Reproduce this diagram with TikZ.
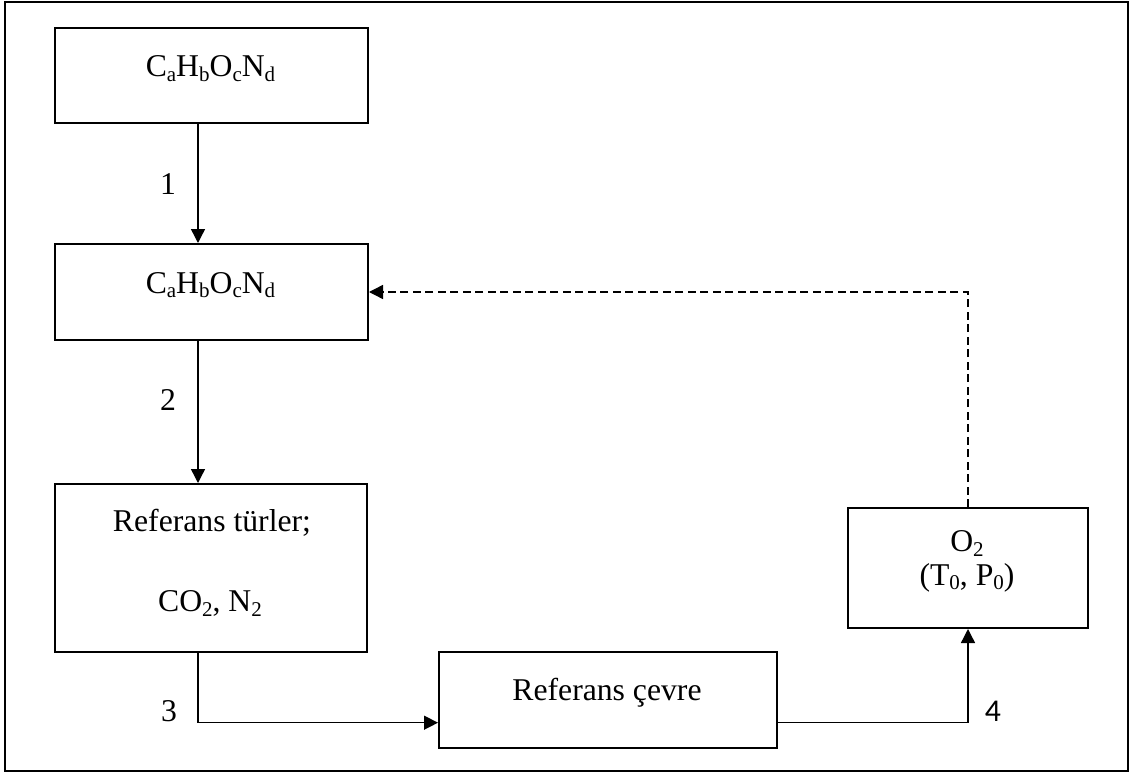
\documentclass[tikz,border=0pt]{standalone}
\usepackage{fontspec}
\setmainfont{Liberation Serif}
\newfontfamily\labelsans{Carlito}
\usetikzlibrary{arrows.meta}
% chemical subscript, set as a smaller lowered text
\newcommand{\chsub}[1]{\raisebox{-0.15em}{\fontsize{21}{21}\selectfont #1}}
\begin{document}
\begin{tikzpicture}[x=1pt,y=-1pt,
  box/.style={draw,line width=2pt,rectangle,inner sep=0pt,anchor=north west},
  txt/.style={anchor=base,inner sep=0pt,font=\fontsize{31.7}{38}\selectfont},
  num/.style={txt},
  flow/.style={line width=1.4pt,-{Triangle[width=14pt,length=14pt]}},
  back/.style={flow,dash pattern=on 8pt off 4.5pt}]
\useasboundingbox (0,0) rectangle (1130,773);
\draw[line width=2pt] (5,2) rectangle (1128,771);

% boxes
\node[box,minimum width=313pt,minimum height=95pt] (b1) at (54,27) {};
\node[box,minimum width=313pt,minimum height=96pt] (b2) at (54,243) {};
\node[box,minimum width=312pt,minimum height=168pt] (b3) at (54,483) {};
\node[box,minimum width=338pt,minimum height=96pt] (b4) at (438,651) {};
\node[box,minimum width=240pt,minimum height=120pt] (b5) at (847,507) {};

% box texts
\node[txt] (t1) at (210.5,77) {C\chsub{a}H\chsub{b}O\chsub{c}N\chsub{d}};
\node[txt] (t2) at (210.5,293) {C\chsub{a}H\chsub{b}O\chsub{c}N\chsub{d}};
\node[txt] (t3a) at (212,531.7) {Referans türler;};
\node[txt] (t3b) at (210,611.7) {CO\chsub{2}, N\chsub{2}};
\node[txt] (t4) at (607,700) {Referans çevre};
\node[txt] (t5a) at (967,551.7) {O\chsub{2}};
\node[txt] (t5b) at (967,585) {(T\chsub{0}, P\chsub{0})};

% step numbers
\node[num] (n1) at (168,194) {1};
\node[num] (n2) at (168,410) {2};
\node[num] (n3) at (169,721.7) {3};
\node[num,font=\labelsans\fontsize{31.7}{38}\selectfont] (n4) at (993,721.7) {4};

% connector guides
\coordinate (cx) at (198,0);
\coordinate (cy) at (0,722.7);

% connectors
\draw[flow] (b1.south -| cx) -- (b2.north -| cx);
\draw[flow] (b2.south -| cx) -- (b3.north -| cx);
\draw[flow] (b3.south -| cx) |- (b4.west |- cy);
\draw[flow] (b4.east |- cy) -| (b5.south);
\draw[back] (b5.north) |- (b2.east);
\end{tikzpicture}
\end{document}
